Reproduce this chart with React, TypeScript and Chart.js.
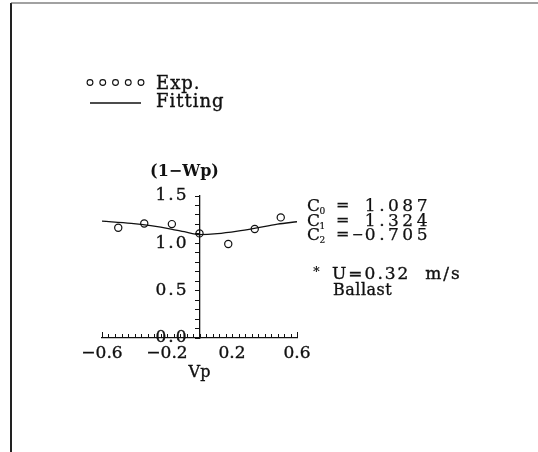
import React, { useEffect, useRef } from 'react';
import { Chart, registerables } from 'chart.js';

Chart.register(...registerables);

// Measured wake fraction points (1 - Wp) against Vp
const expVp = [-0.5, -0.34, -0.17, 0, 0.177, 0.34, 0.5];
const expWake = [1.165, 1.21, 1.203, 1.105, 0.993, 1.151, 1.274];

// Fitted curve, sampled along Vp
const fitVp = [-0.6, -0.42, -0.3, -0.175, -0.094, 0, 0.11, 0.234, 0.337, 0.48, 0.6];
const fitWake = [1.235, 1.211, 1.186, 1.151, 1.123, 1.092, 1.102, 1.129, 1.158, 1.203, 1.228];

// Axis ticks: labelled majors plus unlabelled minors
const xTickValues = Array.from({ length: 31 }, (_, i) => Math.round((-0.6 + i * 0.04) * 100) / 100);
const xMajorValues = [-0.6, -0.2, 0.2, 0.6];
const xMajorLabels = ['−0.6', '−0.2', '0.2', '0.6'];
const yTickValues = Array.from({ length: 16 }, (_, i) => i / 10);
const yMajorValues = [0, 0.5, 1.0, 1.5];
const yMajorLabels = ['0.0', '0.5', '1.0', '1.5'];

// Fit coefficients and run notes
const coefSubs = ['0', '1', '2'];
const coefValues = ['1.087', '1.324', '−0.705'];
const runNote = 'U=0.32  m/s';
const runCondition = 'Ballast';

const SERIF = '"DejaVu Serif", serif';
const INK = '#111';

function inkText(ctx: CanvasRenderingContext2D, text: string, x: number, y: number, weight = 0.35) {
  ctx.fillText(text, x, y);
  ctx.lineWidth = weight;
  ctx.strokeText(text, x, y);
}

const decorPlugin = {
  id: 'decor',
  beforeDraw(chart: any) {
    const ctx = chart.ctx as CanvasRenderingContext2D;
    ctx.save();
    ctx.fillStyle = '#fff';
    ctx.fillRect(0, 0, chart.width, chart.height);
    // page frame: left and top edges
    ctx.strokeStyle = '#222';
    ctx.lineWidth = 2;
    ctx.beginPath();
    ctx.moveTo(11, 3);
    ctx.lineTo(11, chart.height);
    ctx.stroke();
    ctx.strokeStyle = '#444';
    ctx.lineWidth = 1.2;
    ctx.beginPath();
    ctx.moveTo(11, 3);
    ctx.lineTo(chart.width, 3);
    ctx.stroke();
    ctx.restore();
  },
  afterDraw(chart: any) {
    const ctx = chart.ctx as CanvasRenderingContext2D;
    const ac: any = ctx;
    const xs = chart.scales.x;
    const ys = chart.scales.y;
    const y0 = ys.getPixelForValue(0);
    const x0 = xs.getPixelForValue(0);
    ctx.save();
    ctx.strokeStyle = INK;
    ctx.fillStyle = INK;

    // inward (upward) tick marks on the Vp axis
    ctx.lineWidth = 1;
    xTickValues.forEach((v, i) => {
      const px = Math.round(xs.getPixelForValue(v)) + 0.5;
      const len = i === 0 || i === xTickValues.length - 1 ? 6 : 4;
      ctx.beginPath();
      ctx.moveTo(px, y0);
      ctx.lineTo(px, y0 - len);
      ctx.stroke();
    });

    // tick labels
    ctx.font = `17px ${SERIF}`;
    ctx.textBaseline = 'middle';
    ctx.textAlign = 'center';
    xMajorValues.forEach((v, i) => {
      inkText(ctx, xMajorLabels[i], xs.getPixelForValue(v), y0 + 16);
    });
    ac.letterSpacing = '2px';
    ctx.textAlign = 'right';
    yMajorValues.forEach((v, i) => {
      inkText(ctx, yMajorLabels[i], x0 - 11, ys.getPixelForValue(v));
    });
    ac.letterSpacing = '0px';

    // axis titles
    ctx.font = `16px ${SERIF}`;
    ctx.textAlign = 'center';
    inkText(ctx, 'Vp', x0, y0 + 35);
    ctx.font = `bold 16px ${SERIF}`;
    ctx.fillText('(1−Wp)', x0 - 15, ys.getPixelForValue(1.5) - 24);

    // legend
    const lx = 90;
    ctx.lineWidth = 1.1;
    for (let i = 0; i < 5; i++) {
      ctx.beginPath();
      ctx.arc(lx + i * 12.75, 82.5, 2.9, 0, Math.PI * 2);
      ctx.stroke();
    }
    ctx.lineWidth = 1.3;
    ctx.beginPath();
    ctx.moveTo(lx, 103);
    ctx.lineTo(lx + 51, 103);
    ctx.stroke();
    ctx.font = `18px ${SERIF}`;
    ctx.textAlign = 'left';
    ctx.textBaseline = 'alphabetic';
    ac.letterSpacing = '1px';
    inkText(ctx, 'Exp.', 156, 89);
    inkText(ctx, 'Fitting', 156, 107);
    ac.letterSpacing = '0px';

    // coefficient block
    const base = [211, 225.5, 240];
    coefSubs.forEach((s, i) => {
      ctx.textAlign = 'left';
      ctx.font = `17px ${SERIF}`;
      inkText(ctx, 'C', 307, base[i], 0.25);
      ctx.font = `9px ${SERIF}`;
      inkText(ctx, s, 319.5, base[i] + 3, 0.2);
      ctx.font = `16px ${SERIF}`;
      inkText(ctx, '=', 336, base[i] - 1, 0.25);
      const val = coefValues[i];
      const neg = val.startsWith('−');
      const digits = neg ? val.slice(1) : val;
      ctx.font = `17px ${SERIF}`;
      ac.letterSpacing = '3.5px';
      ctx.textAlign = 'right';
      inkText(ctx, digits, 431, base[i], 0.25);
      const w = ctx.measureText(digits).width;
      ac.letterSpacing = '0px';
      if (neg) {
        ctx.font = `14px ${SERIF}`;
        inkText(ctx, '−', 431 - w - 1, base[i] - 1, 0.25);
      }
    });

    // run condition notes
    ctx.textAlign = 'left';
    ctx.font = `bold 13px ${SERIF}`;
    ctx.fillText('*', 313, 276);
    ctx.font = `17px ${SERIF}`;
    ac.letterSpacing = '2px';
    inkText(ctx, runNote, 332, 279);
    ac.letterSpacing = '0.5px';
    ctx.font = `16px ${SERIF}`;
    inkText(ctx, runCondition, 333, 295);
    ac.letterSpacing = '0px';
    ctx.restore();
  },
};

export default function App() {
  const ref = useRef<HTMLCanvasElement>(null);

  useEffect(() => {
    const canvas = ref.current;
    if (!canvas) return;
    const chart = new Chart(canvas, {
      type: 'scatter',
      data: {
        datasets: [
          {
            type: 'line',
            label: 'Fitting',
            data: fitVp.map((x, i) => ({ x, y: fitWake[i] })),
            borderColor: INK,
            borderWidth: 1.3,
            pointRadius: 0,
            cubicInterpolationMode: 'monotone',
            fill: false,
            order: 2,
          },
          {
            type: 'scatter',
            label: 'Exp.',
            data: expVp.map((x, i) => ({ x, y: expWake[i] })),
            pointStyle: 'circle',
            pointRadius: 3.6,
            borderColor: INK,
            borderWidth: 1.2,
            backgroundColor: 'rgba(0,0,0,0)',
            order: 1,
          },
        ],
      },
      options: {
        responsive: false,
        animation: false,
        layout: { padding: { left: 102, right: 241, top: 196, bottom: 114 } },
        plugins: { legend: { display: false }, tooltip: { enabled: false } },
        scales: {
          x: {
            type: 'linear',
            position: { y: 0 },
            min: -0.6,
            max: 0.6,
            afterBuildTicks: (s: any) => {
              s.ticks = xTickValues.map((value) => ({ value }));
            },
            ticks: { display: false },
            grid: { display: false },
            border: { display: true, color: INK, width: 1.3 },
          },
          y: {
            type: 'linear',
            position: { x: 0 },
            min: 0,
            max: 1.5,
            afterBuildTicks: (s: any) => {
              s.ticks = yTickValues.map((value) => ({ value }));
            },
            ticks: { display: false },
            grid: { display: true, drawOnChartArea: false, drawTicks: true, tickLength: 4, color: INK, lineWidth: 1 },
            border: { display: true, color: INK, width: 1.3 },
          },
        },
      },
      plugins: [decorPlugin],
    } as any);
    return () => chart.destroy();
  }, []);

  return (
    <div style={{ position: 'fixed', left: 0, top: 0, width: 538, height: 452, background: '#fff' }}>
      <canvas ref={ref} width={538} height={452} style={{ display: 'block', width: 538, height: 452 }} />
    </div>
  );
}
